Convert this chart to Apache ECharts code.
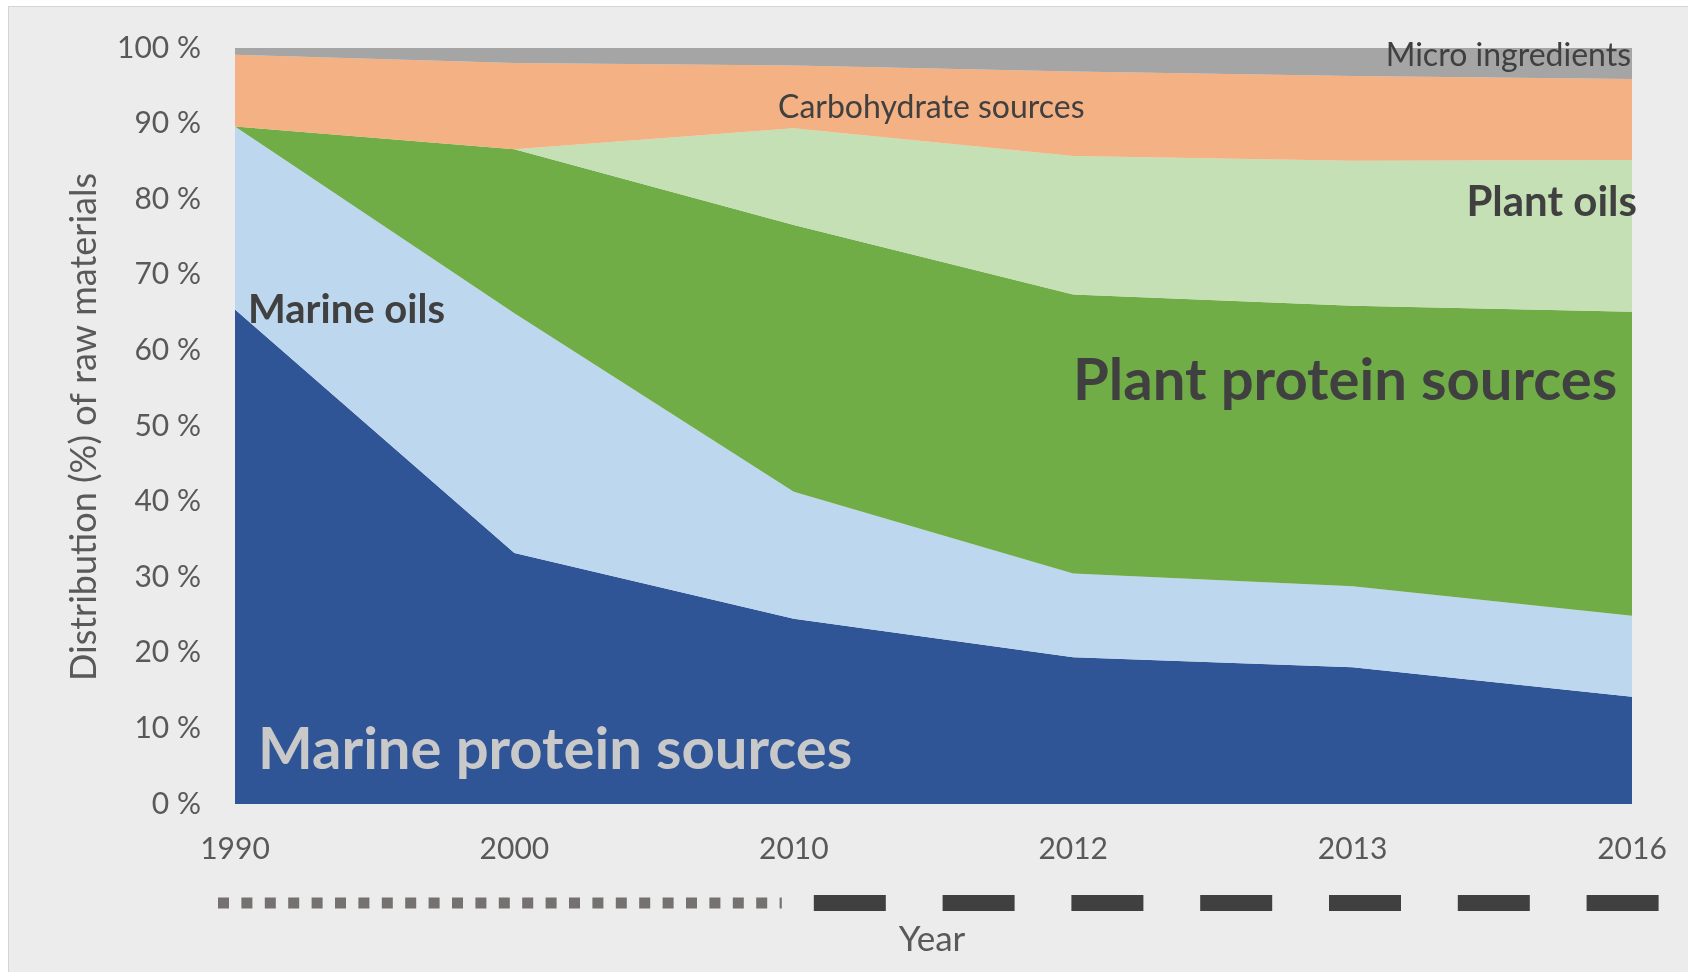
<!DOCTYPE html>
<html>
<head>
<meta charset="utf-8">
<script src="https://cdn.jsdelivr.net/npm/echarts@6/dist/echarts.min.js"></script>
<style>
html,body{margin:0;padding:0;background:#ffffff;}
#bg{position:absolute;left:8px;top:6px;width:1680px;height:966px;background:#ececec;border-left:1px solid #d4d4d4;border-top:1px solid #d4d4d4;box-sizing:border-box;}
#chart{position:absolute;left:0;top:0;width:1688px;height:972px;}
</style>
</head>
<body>
<div id="bg"></div>
<div id="chart"></div>
<script>
const years = ['1990', '2000', '2010', '2012', '2013', '2016'];
const marineProtein = [65.4, 33.2, 24.5, 19.4, 18.1, 14.2];
const marineOils = [24.2, 31.7, 16.8, 11.1, 10.7, 10.7];
const plantProtein = [0, 21.7, 35.3, 36.9, 37.1, 40.2];
const plantOils = [0, 0, 12.8, 18.3, 19.2, 20.1];
const carbohydrates = [9.5, 11.4, 8.3, 11.2, 11.2, 10.7];
const microIngredients = [0.9, 2.0, 2.3, 3.1, 3.7, 4.1];
const yTicks = [0, 10, 20, 30, 40, 50, 60, 70, 80, 90, 100];

const seriesDefs = [
  ['Marine protein sources', marineProtein, '#2f5597'],
  ['Marine oils', marineOils, '#bdd7ee'],
  ['Plant protein sources', plantProtein, '#70ad47'],
  ['Plant oils', plantOils, '#c5e0b4'],
  ['Carbohydrate sources', carbohydrates, '#f4b183'],
  ['Micro ingredients', microIngredients, '#a5a5a5']
];

const FONT = 'Lato, "Open Sans", sans-serif';
const chart = echarts.init(document.getElementById('chart'));
chart.setOption({
  backgroundColor: 'transparent',
  animation: false,
  grid: {left: 235, right: 56, top: 48, bottom: 168},
  xAxis: {
    type: 'category', data: years, boundaryGap: false,
    axisLine: {show: false}, axisTick: {show: false},
    axisLabel: {color: '#595959', fontSize: 30, fontFamily: FONT, margin: 30}
  },
  yAxis: {
    type: 'value', min: yTicks[0], max: yTicks[yTicks.length - 1], interval: 10,
    axisLine: {show: false}, axisTick: {show: false}, splitLine: {show: false},
    axisLabel: {color: '#595959', fontSize: 30, fontFamily: FONT, margin: 34,
      formatter: v => v + ' %'}
  },
  series: seriesDefs.map(d => ({
    name: d[0], type: 'line', stack: 'total', data: d[1],
    symbol: 'none', lineStyle: {width: 0}, areaStyle: {color: d[2], opacity: 1},
    itemStyle: {color: d[2]}
  }))
});

const x1990 = chart.convertToPixel({xAxisIndex: 0}, '1990');
const x2010 = chart.convertToPixel({xAxisIndex: 0}, '2010');
const x2016 = chart.convertToPixel({xAxisIndex: 0}, '2016');
const txt = (t, x, y, size, weight, color, align, extra) => Object.assign({
  type: 'text', x: x, y: y, z: 100,
  style: {text: t, font: weight + ' ' + size + 'px ' + FONT, fill: color,
    align: align, verticalAlign: 'middle'}
}, extra || {});

chart.setOption({
  graphic: [
    {type: 'line', z: 100, shape: {x1: x1990 - 17, y1: 903, x2: x2010 - 12, y2: 903},
      style: {stroke: '#767171', lineWidth: 11, lineDash: [11, 12.4]}},
    {type: 'line', z: 100, shape: {x1: x2010 + 20, y1: 903, x2: x2016 + 27, y2: 903},
      style: {stroke: '#404040', lineWidth: 16, lineDash: [72, 56.8]}},
    txt('Distribution (%) of raw materials', 84, 427, 36, 'normal', '#595959', 'center', {rotation: Math.PI / 2}),
    txt('Year', 932, 940, 35, 'normal', '#595959', 'center'),
    txt('Marine oils', 248, 310, 40, 'bold', '#404040', 'left'),
    txt('Plant oils', 1637, 202, 42, 'bold', '#404040', 'right'),
    txt('Plant protein sources', 1073, 381, 58, 'bold', '#404040', 'left'),
    txt('Marine protein sources', 258, 750, 58, 'bold', '#c9c9c9', 'left'),
    txt('Carbohydrate sources', 778, 108, 32, 'normal', '#404040', 'left'),
    txt('Micro ingredients', 1631, 56, 32, 'normal', '#404040', 'right')
  ]
});
</script>
</body>
</html>
